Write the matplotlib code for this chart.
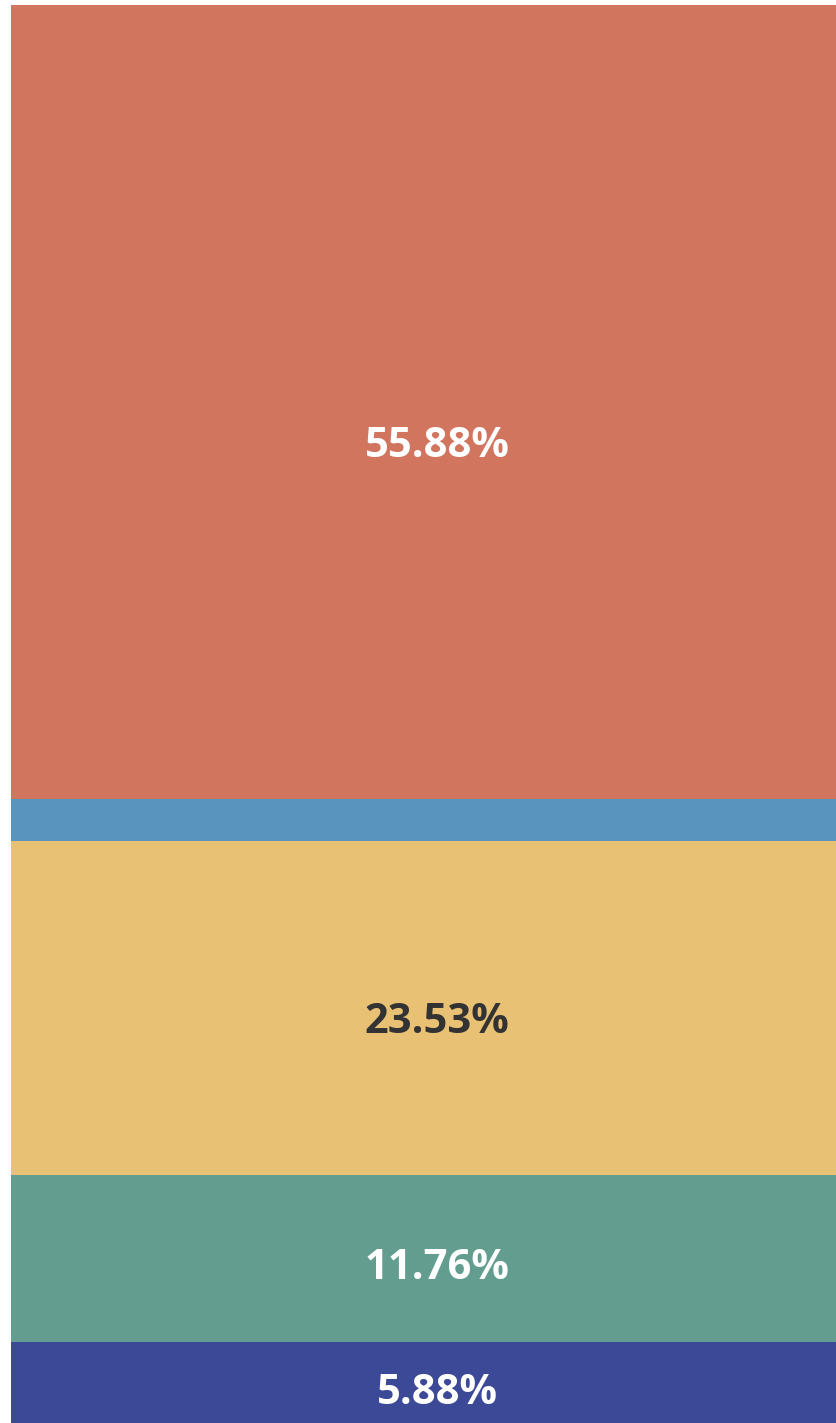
import matplotlib
matplotlib.use('Agg')
import matplotlib.pyplot as plt

# 下から順に積み上げる区分
shares = [5.88, 11.76, 23.53, 2.94, 55.88]
labels = ['5.88%', '11.76%', '23.53%', '', '55.88%']
colors = ['#3C4996', '#629D8F', '#E8C175', '#5894BE', '#D1755E']
text_colors = ['#FFFFFF', '#FFFFFF', '#333333', '#FFFFFF', '#FFFFFF']
# ラベルの縦ずれ(pt)
label_dy = [-7, -7, -10, 0, -32]

fig = plt.figure(figsize=(8.37, 14.23), dpi=100)
# バーは右端で切れている（中心 x≈437px）
ax = fig.add_axes([11 / 837, -3 / 1423, (863 - 11) / 837, 1421 / 1423])

bottom = 0.0
for v, lab, c, tc, dy in zip(shares, labels, colors, text_colors, label_dy):
    ax.bar(0, v, bottom=bottom, width=1.0, color=c, edgecolor='none')
    if lab:
        ax.annotate(lab, (0, bottom + v / 2), xytext=(0, dy),
                    textcoords='offset points', ha='center', va='center',
                    fontsize=30, fontweight='bold', color=tc,
                    family=['Open Sans', 'DejaVu Sans'])
    bottom += v

ax.set_xlim(-0.5, 0.5)
ax.set_ylim(0, sum(shares))
ax.axis('off')

fig.savefig('out.png', dpi=100)
